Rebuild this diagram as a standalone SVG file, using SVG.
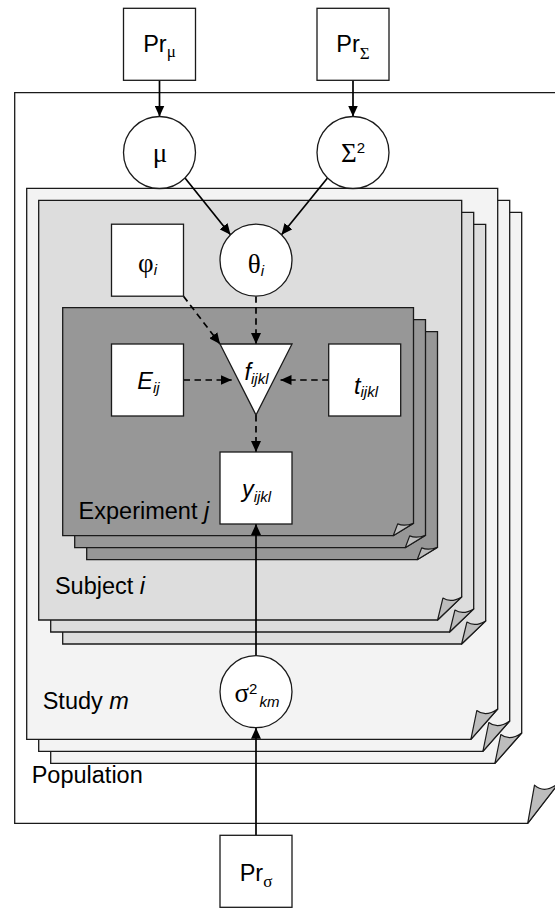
<svg xmlns="http://www.w3.org/2000/svg" xmlns:xlink="http://www.w3.org/1999/xlink" width="555" height="911" viewBox="0 0 555 911">
<style>
.pg{stroke:#1a1a1a;stroke-width:1.3;stroke-linejoin:miter}
.pop{fill:#ffffff}
.study{fill:#f3f3f3}
.subj{fill:#dddddd}
.exp{fill:#979797}
.curl{fill:#bdbdbd;stroke:#1a1a1a;stroke-width:1.2;stroke-linejoin:round}
.node{fill:#ffffff;stroke:#1a1a1a;stroke-width:1.3}
.edge{fill:none;stroke:#000;stroke-width:1.7}
.dash{stroke-dasharray:6.5,4.5}
text{font-family:"Liberation Sans",Arial,sans-serif;fill:#000}
.lab{font-size:23.5px}
.gr{font-family:"Liberation Serif","Times New Roman",serif;font-size:27px}
.grs{font-family:"Liberation Serif","Times New Roman",serif;font-size:17px}
.sub{font-size:15px}
.it{font-style:italic}
</style>
<defs>
<marker id="ah" markerUnits="userSpaceOnUse" viewBox="0 0 11 10" markerWidth="11" markerHeight="10" refX="11" refY="5" orient="auto">
<path d="M0,0 L11,5 L0,10 Z" fill="#000"/>
</marker>
<g id="pgStudy">
<path class="pg study" d="M26.7,188.3 H497.7 V709 L470.9,739.3 H26.7 Z"/>
<path class="curl" d="M470.9,739.3 L476.8,710.5 Q485.6,717.5 497.7,709 Z"/>
</g>
<g id="pgSubj">
<path class="pg subj" d="M38.7,200.3 H461.7 V596.9 L437.6,620 H38.7 Z"/>
<path class="curl" d="M437.6,620 L442.9,598.1 Q450.9,603.4 461.7,596.9 Z"/>
</g>
<g id="pgExp">
<path class="pg exp" d="M62.7,307.7 H413.5 V523.3 L393.2,535.7 H62.7 Z"/>
<path class="curl" d="M393.2,535.7 L397.7,523.9 Q404.4,526.8 413.5,523.3 Z"/>
</g>
</defs>

<g id="population">
<path class="pg pop" d="M14.7,92.7 H558.7 V783.1 L527.7,823.3 H14.7 Z"/>
<path class="curl" d="M527.7,823.3 L534.5,785.1 Q544.8,794.4 558.7,783.1 Z"/>
<text class="lab" x="31.7" y="783.3">Population</text>
</g>

<g id="study">
<use xlink:href="#pgStudy" href="#pgStudy" x="24" y="24"/>
<use xlink:href="#pgStudy" href="#pgStudy" x="12" y="12"/>
<use xlink:href="#pgStudy" href="#pgStudy"/>
<text class="lab" x="42.7" y="709.3">Study <tspan class="it">m</tspan></text>
</g>

<g id="subject">
<use xlink:href="#pgSubj" href="#pgSubj" x="24" y="24"/>
<use xlink:href="#pgSubj" href="#pgSubj" x="12" y="12"/>
<use xlink:href="#pgSubj" href="#pgSubj"/>
<text class="lab" x="54.9" y="594.3">Subject <tspan class="it">i</tspan></text>
</g>

<g id="experiment">
<use xlink:href="#pgExp" href="#pgExp" x="24" y="24"/>
<use xlink:href="#pgExp" href="#pgExp" x="12" y="12"/>
<use xlink:href="#pgExp" href="#pgExp"/>
<text class="lab" x="78.6" y="519.3">Experiment <tspan class="it">j</tspan></text>
</g>

<g id="connectors">
<path class="edge" d="M159.5,80.3 V116.5" marker-end="url(#ah)"/>
<path class="edge" d="M353,80.3 V116.5" marker-end="url(#ah)"/>
<path class="edge" d="M185,178 L230.5,234.7" marker-end="url(#ah)"/>
<path class="edge" d="M327.5,178 L281.5,234.7" marker-end="url(#ah)"/>
<path class="edge dash" d="M183.5,296.2 L220,344" marker-end="url(#ah)"/>
<path class="edge dash" d="M256,296.2 V344" marker-end="url(#ah)"/>
<path class="edge dash" d="M183.5,380 H231.7" marker-end="url(#ah)"/>
<path class="edge dash" d="M328.7,380 H280.5" marker-end="url(#ah)"/>
<path class="edge dash" d="M256,415 V452" marker-end="url(#ah)"/>
<path class="edge" d="M256,655.7 V524" marker-end="url(#ah)"/>
<path class="edge" d="M256,835.3 V727.7" marker-end="url(#ah)"/>
</g>

<g id="Pr_mu">
<rect class="node" x="123.5" y="8.3" width="72" height="72"/>
<text class="lab" x="159.5" y="52.3" text-anchor="middle">Pr<tspan class="grs" dy="5">μ</tspan></text>
</g>
<g id="Pr_Sigma">
<rect class="node" x="317" y="8.3" width="72" height="72"/>
<text class="lab" x="353" y="52.3" text-anchor="middle">Pr<tspan class="grs" dy="7">Σ</tspan></text>
</g>
<g id="mu">
<circle class="node" cx="159.5" cy="152.5" r="36"/>
<text class="gr" x="160" y="162.3" text-anchor="middle">μ</text>
</g>
<g id="Sigma2">
<circle class="node" cx="353" cy="152.5" r="36"/>
<text x="353" y="162.3" text-anchor="middle"><tspan class="gr">Σ</tspan><tspan class="sub" dy="-9">2</tspan></text>
</g>
<g id="theta">
<circle class="node" cx="256" cy="260.2" r="36"/>
<text x="256" y="272.5" text-anchor="middle"><tspan class="gr">θ</tspan><tspan class="sub it" dy="3">i</tspan></text>
</g>
<g id="phi">
<rect class="node" x="111.5" y="224.2" width="72" height="72"/>
<text x="147.5" y="271.5" text-anchor="middle"><tspan class="gr">φ</tspan><tspan class="sub it" dy="3.5">i</tspan></text>
</g>
<g id="E">
<rect class="node" x="111.5" y="344" width="72" height="72"/>
<text x="148.5" y="389.3" text-anchor="middle"><tspan class="lab it">E</tspan><tspan class="sub it" dy="4">ij</tspan></text>
</g>
<g id="f">
<polygon class="node" points="220,344 292,344 256,415"/>
<text x="256.5" y="380" text-anchor="middle"><tspan class="lab it">f</tspan><tspan class="sub it" dy="3.5">ijkl</tspan></text>
</g>
<g id="t">
<rect class="node" x="328.7" y="344" width="72" height="72"/>
<text x="366" y="394" text-anchor="middle"><tspan class="lab it">t</tspan><tspan class="sub it" dy="3">ijkl</tspan></text>
</g>
<g id="y">
<rect class="node" x="220" y="452" width="72" height="72"/>
<text x="256.5" y="497" text-anchor="middle"><tspan class="lab it">y</tspan><tspan class="sub it" dy="4.5">ijkl</tspan></text>
</g>
<g id="sigma2">
<circle class="node" cx="256" cy="691.7" r="36"/>
<text x="257" y="701.5" text-anchor="middle"><tspan class="gr">σ</tspan><tspan class="sub" dy="-8">2</tspan><tspan class="sub it" dx="2" dy="13.5">km</tspan></text>
</g>
<g id="Pr_sigma">
<rect class="node" x="220" y="835.3" width="72" height="72"/>
<text class="lab" x="256" y="881" text-anchor="middle">Pr<tspan class="grs" dy="5.5">σ</tspan></text>
</g>
</svg>
